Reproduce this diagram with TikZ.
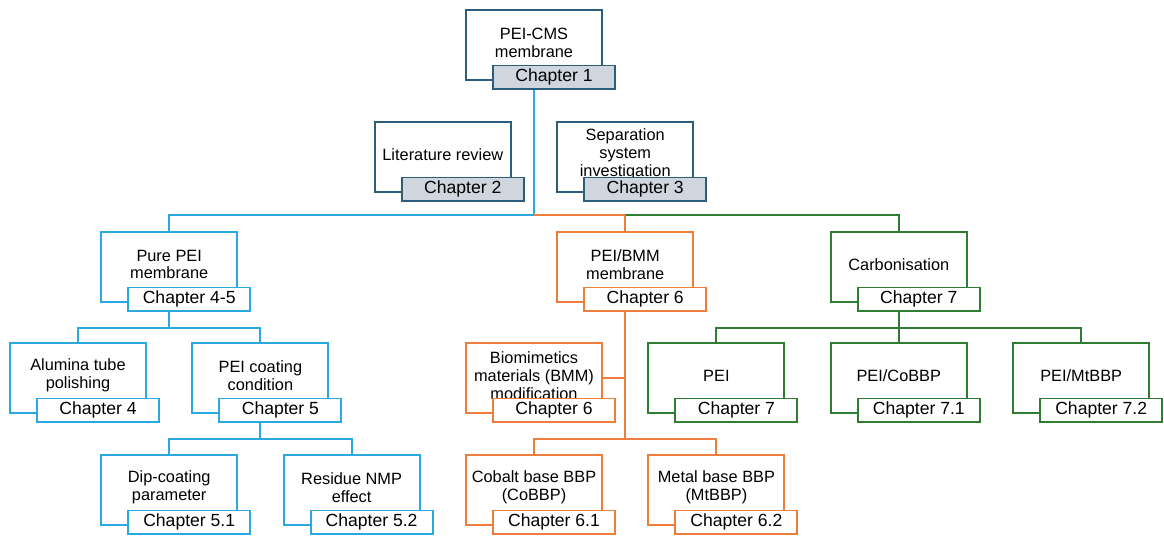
\documentclass[tikz,border=0pt]{standalone}
\usepackage{fontspec}
\setmainfont{Liberation Sans}
\definecolor{navyline}{HTML}{2B5E7C}
\definecolor{navyfill}{HTML}{CFD6DD}
\definecolor{skyline}{HTML}{2AA8E0}
\definecolor{orangeline}{HTML}{EF7D3C}
\definecolor{greenline}{HTML}{2F7D32}

\begin{document}
\begin{tikzpicture}[
        x=0.02cm, y=-0.02cm,
        font=\fontsize{9.3}{10.2}\selectfont,
        topic/.style={draw=#1, line width=1.1pt, fill=white, minimum width=2.72cm, minimum height=1.4cm, inner sep=0pt},
        boxtxt/.style={align=center, yshift=0.05cm, inner sep=0pt, font=\fontsize{9.3}{10.2}\selectfont},
        chap/.style={draw=#1, line width=1.1pt, fill=white, minimum width=2.44cm, minimum height=0.47cm, inner sep=0pt, anchor=south west, font=\fontsize{10}{12}\selectfont},
        chaptop/.style={chap=navyline, fill=navyfill},
        link/.style={draw=#1, line width=1.1pt},
    ]
    \useasboundingbox (0,0) rectangle (1164,536);

    % top: overview and background chapters
    \node[topic=navyline, label={[boxtxt]center:PEI-CMS\\membrane}] (cms) at (534,45) {};
    \node[chaptop] (c1) at ([xshift=0.54cm,yshift=-0.18cm]cms.south west) {Chapter 1};
    \node[topic=navyline, label={[boxtxt]center:Literature review}] (lit) at (442.8,157) {};
    \node[chaptop] (c2) at ([xshift=0.54cm,yshift=-0.18cm]lit.south west) {Chapter 2};
    \node[topic=navyline, label={[boxtxt]center:Separation\\system\\investigation}] (sep) at (625.2,157) {};
    \node[chaptop] (c3) at ([xshift=0.54cm,yshift=-0.18cm]sep.south west) {Chapter 3};

    % pure PEI branch
    \node[topic=skyline, label={[boxtxt]center:Pure PEI\\membrane}] (pure) at (169.2,267) {};
    \node[chap=skyline] (c45) at ([xshift=0.54cm,yshift=-0.18cm]pure.south west) {Chapter 4-5};
    \node[topic=skyline, label={[boxtxt]center:Alumina tube\\polishing}] (alum) at (78,378) {};
    \node[chap=skyline] (c4) at ([xshift=0.54cm,yshift=-0.18cm]alum.south west) {Chapter 4};
    \node[topic=skyline, label={[boxtxt]center:PEI coating\\condition}] (coat) at (260.4,378) {};
    \node[chap=skyline] (c5) at ([xshift=0.54cm,yshift=-0.18cm]coat.south west) {Chapter 5};
    \node[topic=skyline, label={[boxtxt]center:Dip-coating\\parameter}] (dip) at (169.2,490) {};
    \node[chap=skyline] (c51) at ([xshift=0.54cm,yshift=-0.18cm]dip.south west) {Chapter 5.1};
    \node[topic=skyline, label={[boxtxt]center:Residue NMP\\effect}] (nmp) at (351.6,490) {};
    \node[chap=skyline] (c52) at ([xshift=0.54cm,yshift=-0.18cm]nmp.south west) {Chapter 5.2};

    % PEI/BMM branch
    \node[topic=orangeline, label={[boxtxt]center:PEI/BMM\\membrane}] (bmm) at (625.2,267) {};
    \node[chap=orangeline] (c6) at ([xshift=0.54cm,yshift=-0.18cm]bmm.south west) {Chapter 6};
    \node[topic=orangeline, label={[boxtxt]center:Biomimetics\\materials (BMM)\\modification}] (bio) at (534,378) {};
    \node[chap=orangeline] (c6b) at ([xshift=0.54cm,yshift=-0.18cm]bio.south west) {Chapter 6};
    \node[topic=orangeline, label={[boxtxt]center:Cobalt base BBP\\(CoBBP)}] (cob) at (534,490) {};
    \node[chap=orangeline] (c61) at ([xshift=0.54cm,yshift=-0.18cm]cob.south west) {Chapter 6.1};
    \node[topic=orangeline, label={[boxtxt]center:Metal base BBP\\(MtBBP)}] (met) at (716.4,490) {};
    \node[chap=orangeline] (c62) at ([xshift=0.54cm,yshift=-0.18cm]met.south west) {Chapter 6.2};

    % carbonisation branch
    \node[topic=greenline, label={[boxtxt]center:Carbonisation}] (carb) at (898.8,267) {};
    \node[chap=greenline] (c7) at ([xshift=0.54cm,yshift=-0.18cm]carb.south west) {Chapter 7};
    \node[topic=greenline, label={[boxtxt]center:PEI}] (pei) at (716.4,378) {};
    \node[chap=greenline] (c7b) at ([xshift=0.54cm,yshift=-0.18cm]pei.south west) {Chapter 7};
    \node[topic=greenline, label={[boxtxt]center:PEI/CoBBP}] (co) at (898.8,378) {};
    \node[chap=greenline] (c71) at ([xshift=0.54cm,yshift=-0.18cm]co.south west) {Chapter 7.1};
    \node[topic=greenline, label={[boxtxt]center:PEI/MtBBP}] (mt) at (1081.2,378) {};
    \node[chap=greenline] (c72) at ([xshift=0.54cm,yshift=-0.18cm]mt.south west) {Chapter 7.2};

    % connectors
    \coordinate (split) at (534,215);
    \draw[link=skyline] (cms.center |- c1.south) -- (split) -| (pure.north);
    \draw[link=greenline] (bmm.north |- split) -| (carb.north);
    \draw[link=orangeline] (split) -| (bmm.north);

    \draw[link=skyline] (pure.center |- c45.south) -- ++(0,16) -| (alum.north);
    \draw[link=skyline] (pure.center |- c45.south) -- ++(0,16) -| (coat.north);
    \draw[link=skyline] (coat.center |- c5.south) -- ++(0,16) -| (dip.north);
    \draw[link=skyline] (coat.center |- c5.south) -- ++(0,16) -| (nmp.north);

    \draw[link=orangeline] (bio.east) -- (bio.east -| bmm.center);
    \draw[link=orangeline] (bmm.center |- c6.south) -- ++(0,127) -| (cob.north);
    \draw[link=orangeline] (bmm.center |- c6.south) -- ++(0,127) -| (met.north);

    \foreach \n in {pei,co,mt}
        \draw[link=greenline] (carb.center |- c7.south) -- ++(0,16) -| (\n.north);

\end{tikzpicture}
\end{document}
